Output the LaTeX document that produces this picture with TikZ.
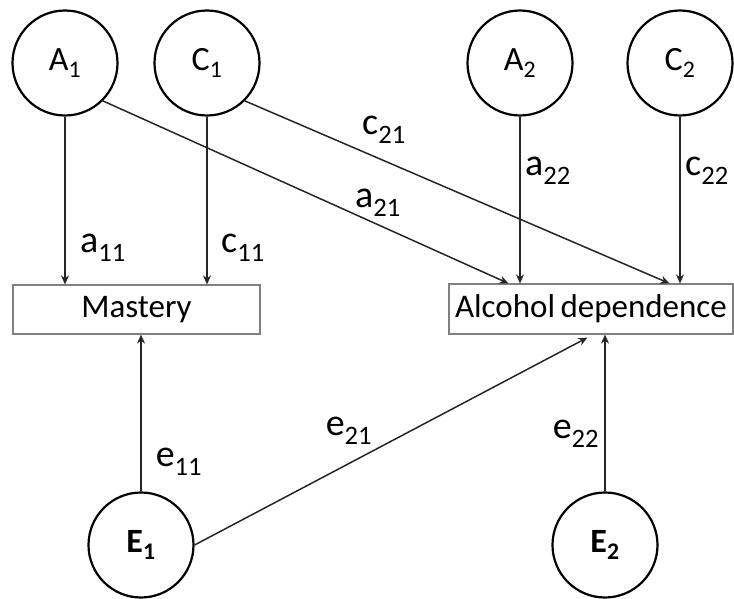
\documentclass[tikz,border=0pt]{standalone}
\usepackage{fontspec}
\setmainfont{Carlito}
\usetikzlibrary{arrows.meta,calc}
\begin{document}
\begin{tikzpicture}[x=1pt,y=-1pt,
  lat/.style={circle,draw,line width=2.2pt,minimum size=105pt,inner sep=0pt,font=\fontsize{34}{38}\selectfont},
  latb/.style={lat,font=\fontsize{34}{38}\selectfont\bfseries},
  obs/.style={draw=gray,line width=1.2pt,inner sep=0pt,font=\fontsize{33}{38}\selectfont},
  arr/.style={line width=1.5pt,draw=black!85,-{Stealth[length=9pt,width=8pt]}},
  lbl/.style={font=\fontsize{38}{42}\selectfont,inner sep=0pt}]
\useasboundingbox (0,0) rectangle (734,599);
% latent factors
\node[lat] (A1) at (65,63) {A\textsubscript{1}};
\node[lat] (C1) at (207,63) {C\textsubscript{1}};
\node[lat] (A2) at (520,63) {A\textsubscript{2}};
\node[lat] (C2) at (680,63) {C\textsubscript{2}};
\node[latb] (E1) at (141,545) {E\textsubscript{1}};
\node[latb] (E2) at (605,545) {E\textsubscript{2}};
% observed
\node[obs,minimum width=247pt,minimum height=49pt] (M) at (136.5,309.5) {Mastery};
\node[obs,minimum width=284pt,minimum height=50pt] (AD) at (591,309) {Alcohol\hspace{-2pt} dependence};
% arrow end points on the alcohol box
\coordinate (t1) at ($(AD.north west)+(60,0)$);
\coordinate (t2) at ($(AD.north west)+(221,0)$);
\coordinate (b1) at ($(AD.south west)+(139,3)$);
% paths
\draw[arr] (A1.south) -- (A1.south |- M.north);
\draw[arr] (C1.south) -- (C1.south |- M.north);
\draw[arr] (A1.south east) -- (t1);
\draw[arr] (C1.south east) -- (t2);
\draw[arr] (A2.south) -- (A2.south |- AD.north);
\draw[arr] (C2.south) -- (C2.south |- AD.north);
\draw[arr] (E1.north) -- (E1.north |- M.south);
\draw[arr] (E1.east) -- (b1);
\draw[arr] (E2.north) -- (E2.north |- AD.south);
% labels
\node[lbl] (la11) at (103,248) {a\textsubscript{11}};
\node[lbl] (lc11) at (243,248) {c\textsubscript{11}};
\node[lbl] (la21) at (378,203) {a\textsubscript{21}};
\node[lbl] (lc21) at (384,130) {c\textsubscript{21}};
\node[lbl] (la22) at (548,171) {a\textsubscript{22}};
\node[lbl] (lc22) at (707,171) {c\textsubscript{22}};
\node[lbl] (le11) at (179,462) {e\textsubscript{11}};
\node[lbl] (le21) at (349,431) {e\textsubscript{21}};
\node[lbl] (le22) at (576,434) {e\textsubscript{22}};
\end{tikzpicture}
\end{document}
